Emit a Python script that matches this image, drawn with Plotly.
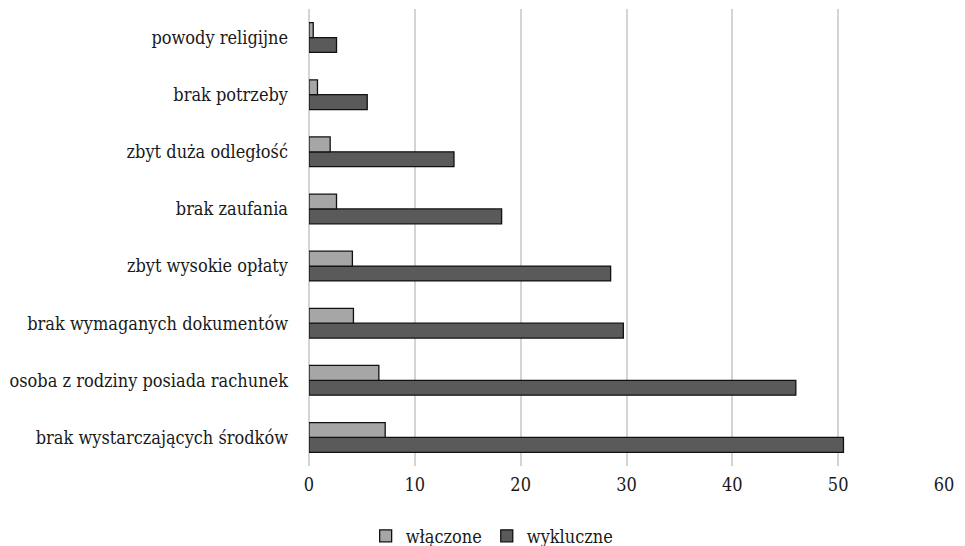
import plotly.graph_objects as go

# Reasons for not having a bank account, by group (%)
categories = [
    "brak wystarczających środków",
    "osoba z rodziny posiada rachunek",
    "brak wymaganych dokumentów",
    "zbyt wysokie opłaty",
    "brak zaufania",
    "zbyt duża odległość",
    "brak potrzeby",
    "powody religijne",
]
wlaczone = [7.2, 6.6, 4.2, 4.1, 2.6, 2.0, 0.8, 0.4]
wykluczne = [50.5, 46.0, 29.7, 28.5, 18.2, 13.7, 5.5, 2.6]
x_ticks = [0, 10, 20, 30, 40, 50, 60]

FONT = "'DejaVu Serif Condensed', 'DejaVu Serif', serif"

fig = go.Figure()
fig.add_trace(go.Bar(
    y=categories, x=wykluczne, name="wykluczne", orientation="h",
    marker=dict(color="#5a5a5a", line=dict(color="#111111", width=1.3)),
))
fig.add_trace(go.Bar(
    y=categories, x=wlaczone, name="włączone", orientation="h",
    marker=dict(color="#a6a6a6", line=dict(color="#111111", width=1.3)),
))

fig.update_layout(
    width=965, height=546,
    margin=dict(l=309, r=21, t=9, b=80, autoexpand=False),
    paper_bgcolor="white", plot_bgcolor="white",
    barmode="group", bargap=0.48, bargroupgap=0.0,
    font=dict(family=FONT, size=18, color="#1a1a1a"),
    showlegend=True,
    legend=dict(
        orientation="h", traceorder="reversed",
        x=0.51, xanchor="center", xref="container",
        y=0.018, yanchor="middle", yref="container",
        font=dict(family=FONT, size=18, color="#1a1a1a"),
        itemwidth=30,
    ),
    xaxis=dict(
        range=[0, 60], tickvals=x_ticks, ticktext=[str(v) for v in x_ticks],
        showgrid=True, gridcolor="#d4d4d4", gridwidth=2,
        zeroline=True, zerolinecolor="#d4d4d4", zerolinewidth=2,
        showline=False, ticks="", ticklabelstandoff=6, automargin=False,
    ),
    yaxis=dict(
        categoryorder="array", categoryarray=categories,
        showgrid=False, showline=False, zeroline=False,
        ticks="", ticklabelstandoff=20, automargin=False,
    ),
)

fig.write_html("out.html")
